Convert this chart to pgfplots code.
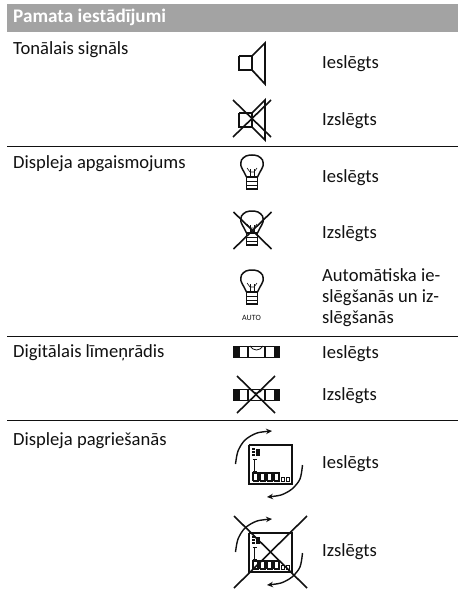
\documentclass[border=0pt]{standalone}
\usepackage{fontspec}
\setmainfont{Carlito}
\usepackage{pgfplots}
\usetikzlibrary{arrows.meta}
\pgfplotsset{compat=1.18}
\definecolor{hdr}{HTML}{A3A3A3}
\definecolor{ink}{HTML}{111111}
\newcommand\lab[3]{\node[anchor=base west,inner sep=0pt,text=ink,font=\fontsize{18.6}{22}\selectfont] at (axis cs:#1,#2) {#3};}
\newcommand\bulb[1]{%
\addplot[ink,line width=1.5pt,smooth,yshift=#1] coordinates {(246.5,177)(244,172)(241,166)(241.5,160)(246,156)(252,155)(258,156)(262.5,160)(263,166)(260,172)(257.5,177)};
\addplot[ink,line width=1.4pt,yshift=#1] coordinates {(246.5,177)(246.5,189)(257.5,189)(257.5,177)(246.5,177)};
\addplot[ink,line width=1pt,yshift=#1] coordinates {(246.5,181)(257.5,181)};
\addplot[ink,line width=1pt,yshift=#1] coordinates {(246.5,185)(257.5,185)};
\addplot[ink,line width=0.7pt,yshift=#1] coordinates {(250,177)(250,169)};
\addplot[ink,line width=0.7pt,yshift=#1] coordinates {(254,177)(254,169)};
\addplot[ink,line width=0.6pt,yshift=#1] coordinates {(247,168)(250,172)(254,172)(257,168)};
}
\newcommand\xmark[4]{%
\addplot[ink,line width=1.6pt] coordinates {(#1,#2)(#3,#4)};
\addplot[ink,line width=1.6pt] coordinates {(#3,#2)(#1,#4)};
}
\newcommand\level[1]{%
\addplot[ink,line width=1.5pt,yshift=#1] coordinates {(233,346.7)(280,346.7)};
\addplot[ink,line width=1.5pt,yshift=#1] coordinates {(233,357.3)(280,357.3)};
\addplot[draw=none,fill=ink,yshift=#1] coordinates {(233,346)(239.5,346)(239.5,358)(233,358)} -- cycle;
\addplot[draw=none,fill=ink,yshift=#1] coordinates {(273.5,346)(280,346)(280,358)(273.5,358)} -- cycle;
\addplot[ink,line width=1.1pt,yshift=#1] coordinates {(248,346)(248,358)};
\addplot[ink,line width=1.1pt,yshift=#1] coordinates {(265,346)(265,358)};
\addplot[ink,line width=0.8pt,smooth,yshift=#1] coordinates {(250,346)(253,349)(256.5,350)(260,349)(263,346)};
}
\newcommand\display[1]{%
\addplot[ink,line width=2pt,yshift=#1] coordinates {(248.5,444.5)(291.5,444.5)(291.5,483.5)(248.5,483.5)(248.5,444.5)};
\addplot[ink,line width=1.4pt,smooth,-{Stealth[length=6pt,width=5.5pt]},yshift=#1] coordinates {(235.5,464)(238,451)(245,440)(257,433)(272,431)};
\addplot[ink,line width=1.4pt,smooth,-{Stealth[length=6pt,width=5.5pt]},yshift=#1] coordinates {(302.5,465)(300,479)(292,489)(281,495)(267,497)};
\addplot[ink,line width=1.1pt,yshift=#1] coordinates {(252,449)(255,449)};
\addplot[ink,line width=1.1pt,yshift=#1] coordinates {(252,452)(255,452)};
\addplot[ink,line width=1.1pt,yshift=#1] coordinates {(252,455)(255,455)};
\addplot[draw=none,fill=ink,yshift=#1] coordinates {(256,448.5)(260,448.5)(260,456)(256,456)} -- cycle;
\addplot[ink,line width=1.1pt,yshift=#1] coordinates {(254.5,459)(254.5,471)};
\addplot[ink,line width=0.8pt,yshift=#1] coordinates {(252.5,459)(256.5,459)};
\addplot[ink,line width=0.8pt,yshift=#1] coordinates {(252.5,471)(256.5,471)};
\addplot[ink,line width=1.3pt,yshift=#1] coordinates {(253,481)(253,473)(258,473)(258,481)(253,481)};
\addplot[ink,line width=1.3pt,yshift=#1] coordinates {(260,481)(260,473)(265,473)(265,481)(260,481)};
\addplot[ink,line width=1.3pt,yshift=#1] coordinates {(267,481)(267,473)(272,473)(272,481)(267,481)};
\addplot[ink,line width=1.3pt,yshift=#1] coordinates {(274,481)(274,473)(279,473)(279,481)(274,481)};
\addplot[ink,line width=1pt,yshift=#1] coordinates {(281,481)(281,477)(284,477)(284,481)(281,481)};
\addplot[ink,line width=1pt,yshift=#1] coordinates {(286,481)(286,477)(289,477)(289,481)(286,481)};
}
\begin{document}
\begin{tikzpicture}
\begin{axis}[scale only axis,width=458pt,height=589pt,xmin=0,xmax=458,ymin=0,ymax=589,y dir=reverse,hide axis,clip=false]
\fill[white] (axis cs:0,0) rectangle (axis cs:458,589);
% header band
\addplot[draw=none,fill=hdr] coordinates {(7,4)(458,4)(458,32)(7,32)} -- cycle;
\node[anchor=base west,inner sep=0pt,text=white,font=\fontsize{19.2}{22}\selectfont\bfseries] at (axis cs:13,23) {Pamata iestādījumi};
% rules
\addplot[ink,line width=1pt] coordinates {(7,146)(458,146)};
\addplot[ink,line width=1pt] coordinates {(7,336)(458,336)};
\addplot[ink,line width=1pt] coordinates {(7,420.5)(458,420.5)};
% labels
\lab{13}{54}{Tonālais signāls}
\lab{13}{168}{Displeja apgaismojums}
\lab{13}{357}{Digitālais līmeņrādis}
\lab{13}{445}{Displeja pagriešanās}
\lab{322}{68}{Ieslēgts}
\lab{322}{125}{Izslēgts}
\lab{322}{182}{Ieslēgts}
\lab{322}{238}{Izslēgts}
\lab{322}{281}{Automātiska ie-}
\lab{322}{302}{slēgšanās un iz-}
\lab{322}{323}{slēgšanās}
\lab{322}{358}{Ieslēgts}
\lab{322}{400}{Izslēgts}
\lab{322}{468}{Ieslēgts}
\lab{322}{556}{Izslēgts}
% speaker on
\addplot[ink,line width=1.7pt] coordinates {(239,56)(252,56)(252,70)(239,70)(239,56)};
\addplot[ink,line width=1.7pt] coordinates {(252,56)(265,43)(265,84)(252,70)};
% speaker off
\addplot[ink,line width=1.7pt] coordinates {(239,113)(252,113)(252,127)(239,127)(239,113)};
\addplot[ink,line width=1.7pt] coordinates {(252,113)(265,100)(265,140)(252,127)};
\xmark{233}{100}{271}{137}
% bulbs
\bulb{0pt}
\bulb{-56pt}
\xmark{233.5}{212}{271.5}{249}
\bulb{-115pt}
\node[text=ink,inner sep=0pt,font=\fontsize{8}{9}\selectfont] at (axis cs:251.5,317.5) {AUTO};
% levels
\level{0pt}
\level{-43pt}
\xmark{237}{376}{275}{413}
% displays
\display{0pt}
\display{-88pt}
\xmark{234}{516}{307}{588}
\end{axis}
\end{tikzpicture}
\end{document}
